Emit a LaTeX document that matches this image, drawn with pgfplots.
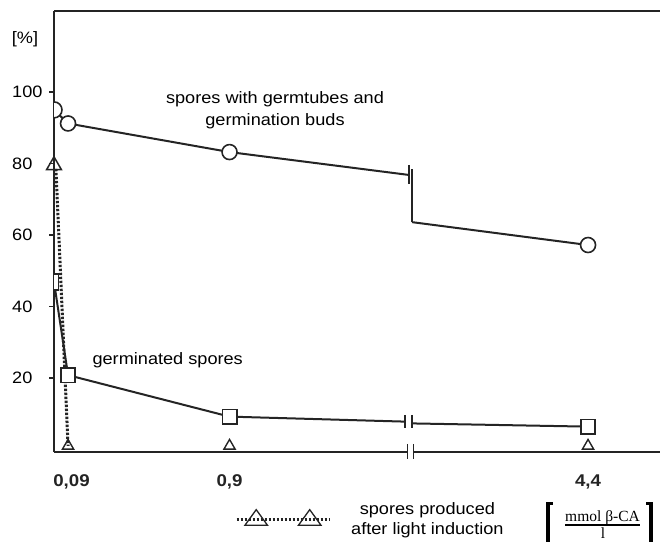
\documentclass[border=0pt]{standalone}
\usepackage{pgfplots}
\pgfplotsset{compat=1.18}
\usepackage{fontspec}
\setmainfont{Liberation Sans}[FakeStretch=1.1]
\newfontfamily\serif{Liberation Serif}

\pgfdeclareplotmark{rhalfcircle}{%
  \pgfpathmoveto{\pgfqpoint{0pt}{\pgfplotmarksize}}%
  \pgfpatharc{90}{-90}{\pgfplotmarksize}%
  \pgfusepathqfillstroke}
\pgfdeclareplotmark{rhalfsquare}{%
  \pgfpathmoveto{\pgfqpoint{0pt}{\pgfplotmarksize}}%
  \pgfpathlineto{\pgfqpoint{0.55\pgfplotmarksize}{\pgfplotmarksize}}%
  \pgfpathlineto{\pgfqpoint{0.55\pgfplotmarksize}{-\pgfplotmarksize}}%
  \pgfpathlineto{\pgfqpoint{0pt}{-\pgfplotmarksize}}%
  \pgfusepathqfillstroke}

\definecolor{ink}{gray}{0.14}
\tikzset{dotline/.style={ink, line width=3pt, dash pattern=on 2.4pt off 1.6pt}}

\begin{document}
\begin{tikzpicture}[x=1pt,y=1pt]
\useasboundingbox (0,0) rectangle (660,-541);
\begin{axis}[
  at={(54pt,-452pt)}, anchor=south west,
  scale only axis, width=606pt, height=441pt,
  xmin=0.913, xmax=4.6656, ymin=-0.7, ymax=122.66,
  axis x line*=bottom, axis y line*=left,
  axis line style={-, line width=1.7pt, ink},
  clip=false,
  xtick={1,2,4.22}, xticklabels={{\hspace*{7pt}0,09},{0,9},{4,4}},
  xtick style={draw=none},
  xticklabel style={font=\fontsize{17}{20}\selectfont\bfseries, text=ink, yshift=-14pt},
  ytick={20,40,60,80,100}, yticklabels={20,40,\raisebox{-3pt}{60},\raisebox{-5pt}{80},100},
  ytick style={line width=1.5pt, ink},
  tick align=outside, major tick length=5pt,
  yticklabel style={font=\fontsize{16.5}{20}\selectfont, text=black, anchor=west, xshift=-37pt, inner sep=0pt},
  legend style={at={(0.2987,-0.152)}, anchor=west, draw=none, fill=none, inner sep=0pt,
    font=\fontsize{16.5}{20}\selectfont, nodes={align=center}, column sep=18pt},
  legend image code/.code={
    \draw[dotline] (0pt,0pt) -- (93pt,0pt);
    \draw[ink, line width=1.3pt, solid] plot[only marks, mark=triangle, mark size=13pt, mark options={yscale=0.8}] coordinates {(19.5pt,-1pt) (73pt,-1pt)};
  },
]
% top frame line
\draw[line width=1.7pt, ink] (rel axis cs:0,1) -- (rel axis cs:1,1);

% axis break on the x axis
\fill[white] (axis cs:3.103,-3) rectangle (axis cs:3.138,2);
\addplot[ink, line width=1.6pt, forget plot] coordinates {(3.103,1.6) (3.103,-2.6)};
\addplot[ink, line width=1.6pt, forget plot] coordinates {(3.138,1.6) (3.138,-2.6)};

% spores with germtubes and germination buds (circles)
\addplot[ink, line width=2pt, forget plot] coordinates {(0.913,95.0) (1,91.2) (2,83.2) (3.111,76.8)};
\addplot[ink, line width=2pt, forget plot] coordinates {(3.13,63.6) (4.22,57.2)};
\addplot[ink, line width=1.6pt, forget plot] coordinates {(3.111,79.6) (3.111,74.3)};
\addplot[ink, line width=1.6pt, forget plot] coordinates {(3.13,78.4) (3.13,63.6)};
\addplot[only marks, mark=*, mark size=7.5pt, mark options={draw=ink, fill=white, line width=1.6pt}, forget plot]
  coordinates {(1,91.2) (2,83.2) (4.22,57.2)};
\addplot[only marks, mark=rhalfcircle, mark size=8pt, mark options={draw=ink, fill=white, line width=1.6pt}, forget plot]
  coordinates {(0.913,95.0)};

% germinated spores (squares)
\addplot[ink, line width=2pt, forget plot] coordinates {(0.913,46.9) (1,20.8) (2,9.2) (3.087,7.8)};
\addplot[ink, line width=2pt, forget plot] coordinates {(3.128,7.3) (4.22,6.4)};
\addplot[ink, line width=1.6pt, forget plot] coordinates {(3.087,9.7) (3.087,6.1)};
\addplot[ink, line width=1.6pt, forget plot] coordinates {(3.128,9.7) (3.128,6.1)};
\addplot[only marks, mark=square*, mark size=7.2pt, mark options={draw=ink, fill=white, line width=1.6pt}, forget plot]
  coordinates {(1,20.8) (2,9.2) (4.22,6.4)};
\addplot[only marks, mark=rhalfsquare, mark size=8pt, mark options={draw=ink, fill=white, line width=1.5pt}, forget plot]
  coordinates {(0.913,46.9)};

% spores produced after light induction (triangles, dotted)
\addplot[dotline] coordinates {(0.925,78.5) (1,1)};
\addlegendentry{spores produced\\after light induction}
\addplot[only marks, mark=triangle, mark size=8.5pt, mark options={draw=ink, line width=1.5pt, solid}, forget plot]
  coordinates {(0.913,79.5)};
\addplot[only marks, mark=triangle, mark size=6.5pt, mark options={draw=ink, line width=1.4pt, solid}, forget plot]
  coordinates {(1,1) (2,1) (4.22,1)};
\end{axis}

\node[font=\fontsize{16.5}{20}\selectfont] at (25,-39) {[\%]};
\node[font=\fontsize{16.5}{22}\selectfont, align=center] at (275,-110) {spores with germtubes and\\germination buds};
\node[font=\fontsize{16.5}{20}\selectfont, anchor=west] at (89,-360) {germinated spores};

% unit: [ mmol beta-CA / l ]
\node[font=\serif\fontsize{15.5}{18}\selectfont] at (602.5,-518) {mmol β-CA};
\node[font=\serif\fontsize{15.5}{18}\selectfont] at (603,-533) {l};
\draw[black, line width=1.2pt] (565,-525) -- (640,-525);
\fill[black] (546,-502) rectangle (549.8,-548);
\fill[black] (546,-502) rectangle (553,-504.8);
\fill[black] (649.2,-502) rectangle (653,-548);
\fill[black] (646,-502) rectangle (653,-504.8);
\end{tikzpicture}
\end{document}
